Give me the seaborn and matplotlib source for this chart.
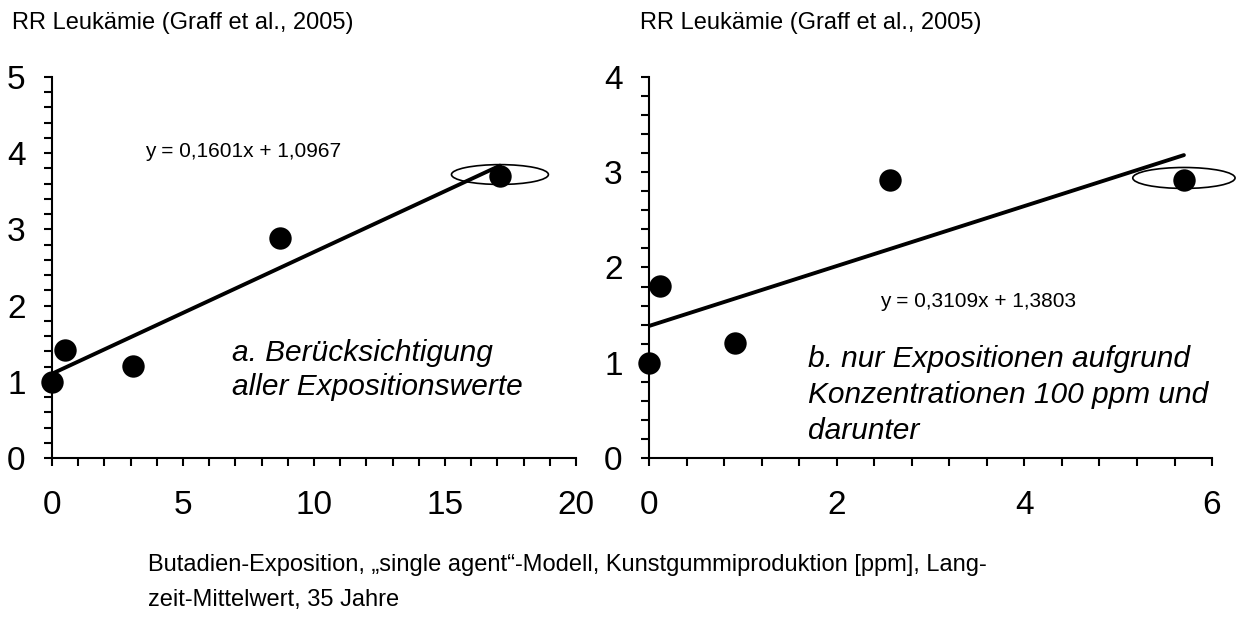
import numpy as np
import pandas as pd
import seaborn as sns
import matplotlib.pyplot as plt
from matplotlib.patches import Ellipse
from matplotlib.ticker import MultipleLocator

# panel a: alle Expositionswerte
left_x = [0, 0.48, 3.1, 8.7, 17.1]
left_rr = [1.0, 1.42, 1.21, 2.89, 3.70]
left_eq = "y = 0,1601x + 1,0967"
left_note = "a. Berücksichtigung\naller Expositionswerte"

# panel b: nur Konzentrationen <= 100 ppm
right_x = [0, 0.12, 0.92, 2.57, 5.70]
right_rr = [1.0, 1.81, 1.21, 2.92, 2.92]
right_eq = "y = 0,3109x + 1,3803"
right_note = "b. nur Expositionen aufgrund\nKonzentrationen 100 ppm und\ndarunter"

title = "RR Leukämie (Graff et al., 2005)"
caption = ("Butadien-Exposition, „single agent“-Modell, Kunstgummiproduktion [ppm], Lang-\n"
           "zeit-Mittelwert, 35 Jahre")

sns.set_style("ticks", {"text.color": "black", "xtick.color": "black",
                        "ytick.color": "black", "axes.edgecolor": "black"})
plt.rcParams['font.family'] = ['Liberation Sans', 'DejaVu Sans']

fig = plt.figure(figsize=(12.52, 6.26), dpi=100)
ax1 = fig.add_axes([0.0415, 0.2684, 0.4185, 0.6086])
ax2 = fig.add_axes([0.5184, 0.2684, 0.4497, 0.6086])


def panel(ax, x, y, xmax, ymax, xmajor, xminor, eq, eq_pos, note, note_pos, note_ls, ell_w, ell_h):
    df = pd.DataFrame({"x": x, "rr": y})
    sns.regplot(data=df, x="x", y="rr", ax=ax, ci=None, truncate=True,
                scatter_kws=dict(s=260, color="black", alpha=1, clip_on=False,
                                 zorder=5, linewidths=0),
                line_kws=dict(color="black", lw=2.8))
    ax.set_xlim(0, xmax)
    ax.set_ylim(0, ymax)
    ax.xaxis.set_major_locator(MultipleLocator(xmajor))
    ax.xaxis.set_minor_locator(MultipleLocator(xminor))
    ax.yaxis.set_major_locator(MultipleLocator(1))
    ax.yaxis.set_minor_locator(MultipleLocator(0.2))
    ax.tick_params(which="both", direction="out", length=6, width=1.5, color="black")
    ax.tick_params(axis="y", which="major", labelsize=24, pad=13, labelcolor="black")
    ax.tick_params(axis="x", which="major", labelsize=24, pad=17, labelcolor="black")
    ax.set_xlabel("")
    ax.set_ylabel("")
    for s in ["left", "bottom"]:
        ax.spines[s].set_linewidth(1.5)
    sns.despine(ax=ax)
    ax.add_patch(Ellipse((x[-1], y[-1] + 0.02), ell_w, ell_h, fill=False,
                         lw=1.2, color="black", zorder=6, clip_on=False))
    ax.text(eq_pos[0], eq_pos[1], eq, fontsize=15, va="center", ha="left")
    # anchored at the baseline of the last line
    ax.text(note_pos[0], note_pos[1], note, fontsize=21.5, style="italic",
            va="baseline", ha="left", linespacing=note_ls)


panel(ax1, left_x, left_rr, 20, 5, 5, 1, left_eq, (3.55, 4.02),
      left_note, (6.87, 0.83), 1.25, 3.7, 0.26)
panel(ax2, right_x, right_rr, 6, 4, 2, 0.4, right_eq, (2.46, 1.64),
      right_note, (1.695, 0.20), 1.36, 1.09, 0.22)

fig.text(0.0096, 0.963, title, fontsize=17, va="center", ha="left")
fig.text(0.511, 0.963, title, fontsize=17, va="center", ha="left")
fig.text(0.118, 0.032, caption, fontsize=17, va="baseline", ha="left", linespacing=1.74)

fig.savefig("out.png", dpi=100, facecolor="white")
